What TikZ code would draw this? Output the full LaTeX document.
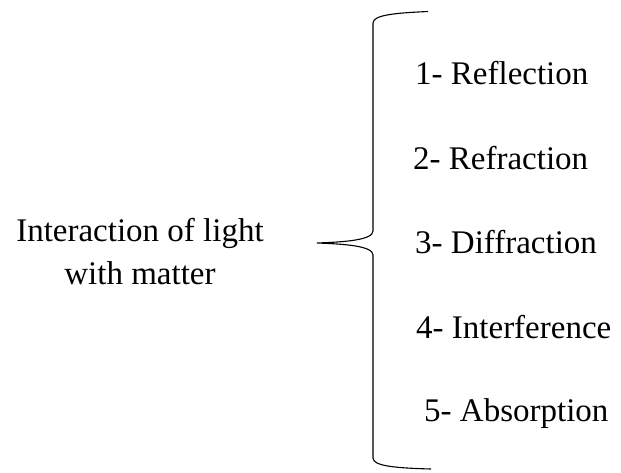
\documentclass[tikz,border=0pt]{standalone}
\usepackage{fontspec}
\setmainfont{Liberation Serif}
\begin{document}
\begin{tikzpicture}[x=1pt,y=-1pt,
  lbl/.style={font=\fontsize{33}{43}\selectfont, inner sep=0pt},
  item/.style={lbl, anchor=base west},
  bracepath/.style={line width=1.1pt, black}]
\useasboundingbox (0,0) rectangle (621,472);
\node[lbl, anchor=base] (main1) at (140,241) {Interaction of light};
\node[lbl, anchor=base] (main2) at (140,284) {with matter};
\node[item] (i1) at (415,84) {1- Reflection};
\node[item] (i2) at (413,169) {2- Refraction};
\node[item] (i3) at (415,253) {3- Diffraction};
\node[item] (i4) at (416,338) {4- Interference};
\node[item] (i5) at (424,421) {5- Absorption};
\coordinate (tip) at (317,243);
\coordinate (top) at (428,11.5);
\coordinate (bot) at (431,469);
\draw[bracepath] (top) .. controls (395,13) and (373,15) .. (373,23)
  -- (373,231) .. controls (373,240) and (345,242) .. (tip)
  .. controls (345,244) and (373,246) .. (373,255)
  -- (373,458) .. controls (373,466) and (395,468) .. (bot);
\end{tikzpicture}
\end{document}
